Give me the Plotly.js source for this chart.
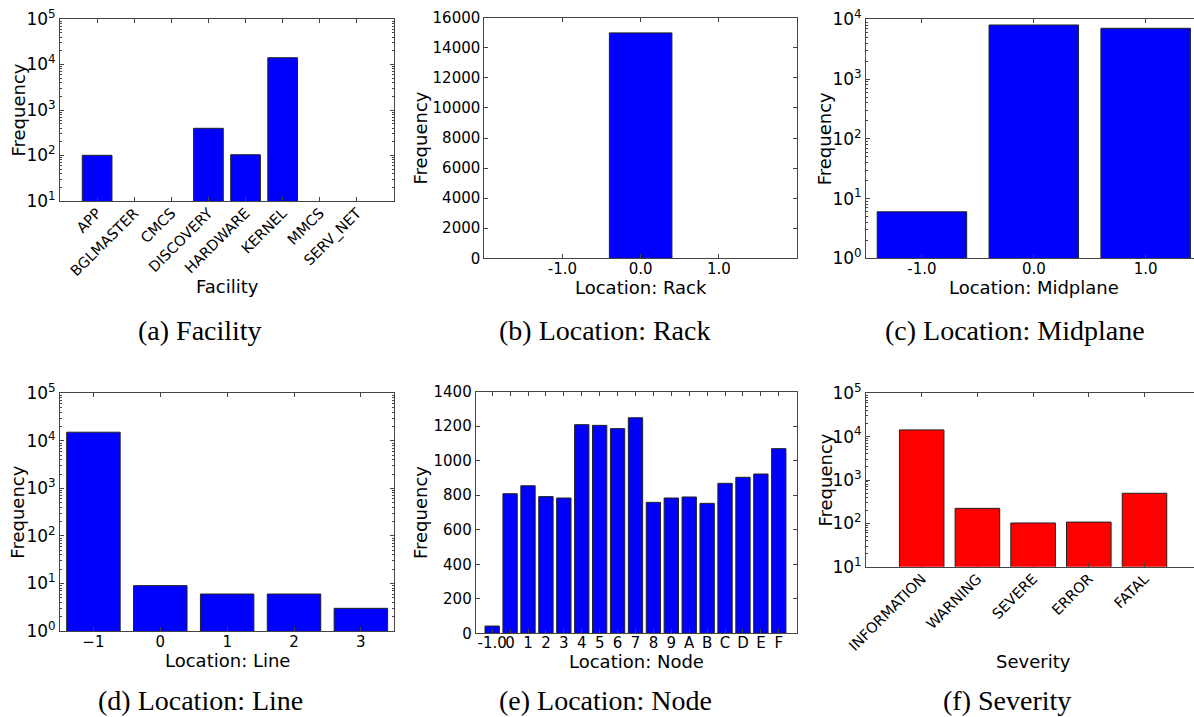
<!DOCTYPE html>
<html>
<head>
<meta charset="utf-8">
<script src="https://cdn.plot.ly/plotly-3.0.1.min.js"></script>
<style>
  html, body { margin: 0; padding: 0; overflow: hidden; background: #fff; }
  #chart { width: 1210px; height: 717px; }
</style>
</head>
<body>
<div id="chart"></div>
<script>
// (a) Facility
const facilityNames = ['APP', 'BGLMASTER', 'CMCS', 'DISCOVERY', 'HARDWARE', 'KERNEL', 'MMCS', 'SERV_NET'];
const facilityCounts = [101, 0, 0, 396, 104, 14100, 0, 0];

// (b) Location: Rack (only rack 0 holds records)
const rackPositions = [-1, 0, 1];
const rackLabels = ['-1.0', '0.0', '1.0'];
const rackCounts = [null, 14990, null];

// (c) Location: Midplane
const midplanePositions = [-1, 0, 1];
const midplaneLabels = ['-1.0', '0.0', '1.0'];
const midplaneCounts = [6, 8030, 7070];

// (d) Location: Line
const linePositions = [-1, 0, 1, 2, 3];
const lineLabels = ['\u22121', '0', '1', '2', '3'];
const lineCounts = [15200, 9, 6, 6, 3];

// (e) Location: Node
const nodeNames = ['-1.0', '0', '1', '2', '3', '4', '5', '6', '7', '8', '9', 'A', 'B', 'C', 'D', 'E', 'F'];
const nodeCounts = [42, 809, 855, 792, 784, 1209, 1205, 1186, 1249, 759, 784, 790, 753, 869, 904, 923, 1070];

// (f) Severity
const severityNames = ['INFORMATION', 'WARNING', 'SEVERE', 'ERROR', 'FATAL'];
const severityCounts = [14300, 222, 102, 107, 494];

// decades shown on the log-scaled frequency axes
const decadesA = [1, 2, 3, 4, 5];
const decadesC = [0, 1, 2, 3, 4];
const decadesD = [0, 1, 2, 3, 4, 5];
const decadesF = [1, 2, 3, 4, 5];

const captions = ['(a) Facility', '(b) Location: Rack', '(c) Location: Midplane',
                  '(d) Location: Line', '(e) Location: Node', '(f) Severity'];
const xTitles = ['Facility', 'Location: Rack', 'Location: Midplane',
                 'Location: Line', 'Location: Node', 'Severity'];

// ---- layout helpers (pixel boxes -> paper fractions) ----
const W = 1210, H = 717;
const px = v => v / W;
const py = v => 1 - v / H;
const xDom = (l, r) => [px(l), px(r)];
const yDom = (t, b) => [py(b), py(t)];

const LINE = '#444';
const SANS = 'DejaVu Sans, sans-serif';
const tickFont = { family: SANS, size: 15, color: '#000' };
const logFont = { family: SANS, size: 17, color: '#000' };
const rotFont = { family: SANS, size: 14.5, color: '#000' };

function baseAxis(extra) {
  return Object.assign({
    showline: true, linecolor: LINE, linewidth: 1, mirror: 'ticks',
    ticks: 'inside', ticklen: 4, tickwidth: 1, tickcolor: LINE,
    showgrid: false, zeroline: false, fixedrange: true,
    tickfont: tickFont
  }, extra);
}

function categoryAxis(names, extra) {
  return baseAxis(Object.assign({
    type: 'category', tickmode: 'array', tickvals: names, ticktext: names
  }, extra));
}

function logAxis(decades, extra) {
  return baseAxis(Object.assign({
    type: 'log',
    range: [decades[0], decades[decades.length - 1]],
    tickmode: 'array',
    tickvals: decades.map(d => Math.pow(10, d)),
    ticktext: decades.map(d => '10<sup>' + d + '</sup>'),
    tickfont: logFont,
    minor: { ticks: 'inside', ticklen: 2, tickwidth: 1, tickcolor: LINE, dtick: 'D1', showgrid: false }
  }, extra));
}

const blueBar = { color: '#0000ff', line: { color: '#222', width: 1 } };
const redBar = { color: '#ff0000', line: { color: '#222', width: 1 } };

const traces = [
  { type: 'bar', x: facilityNames, y: facilityCounts, width: 0.8, marker: blueBar, xaxis: 'x', yaxis: 'y' },
  { type: 'bar', x: rackPositions, y: rackCounts, width: 0.8, marker: blueBar, xaxis: 'x2', yaxis: 'y2' },
  { type: 'bar', x: midplanePositions, y: midplaneCounts, width: 0.8, marker: blueBar, xaxis: 'x3', yaxis: 'y3' },
  { type: 'bar', x: linePositions, y: lineCounts, width: 0.8, marker: blueBar, xaxis: 'x4', yaxis: 'y4' },
  { type: 'bar', x: nodeNames, y: nodeCounts, width: 0.8, marker: blueBar, xaxis: 'x5', yaxis: 'y5' },
  { type: 'bar', x: severityNames, y: severityCounts, width: 0.8, marker: redBar, xaxis: 'x6', yaxis: 'y6' }
].map(t => Object.assign(t, { hoverinfo: 'x+y', showlegend: false }));

// plot boxes in pixels: [left, right, top, bottom]
const boxes = [
  [60, 394, 19, 201],
  [484.3, 797, 17.7, 258.3],
  [866, 1201.6, 19.3, 258.3],
  [60, 394.3, 393.3, 631],
  [475.7, 796.7, 391.7, 633.3],
  [866, 1200.2, 393.3, 566.7]
];

const layout = {
  width: W, height: H,
  margin: { l: 0, r: 0, t: 0, b: 0 },
  paper_bgcolor: '#fff', plot_bgcolor: '#fff',
  showlegend: false,

  xaxis: categoryAxis(facilityNames, { domain: xDom(boxes[0][0], boxes[0][1]), anchor: 'y',
    range: [-1, 8], tickangle: -45, tickfont: rotFont, ticklabelstandoff: -3 }),
  yaxis: logAxis(decadesA, { domain: yDom(boxes[0][2], boxes[0][3]), anchor: 'x' }),

  xaxis2: baseAxis({ domain: xDom(boxes[1][0], boxes[1][1]), anchor: 'y2', range: [-2, 2],
    tickmode: 'array', tickvals: rackPositions, ticktext: rackLabels, ticklabelstandoff: -3 }),
  yaxis2: baseAxis({ domain: yDom(boxes[1][2], boxes[1][3]), anchor: 'x2', range: [0, 16000],
    dtick: 2000, tickformat: 'd' }),

  xaxis3: baseAxis({ domain: xDom(boxes[2][0], boxes[2][1]), anchor: 'y3', range: [-1.5, 1.5],
    tickmode: 'array', tickvals: midplanePositions, ticktext: midplaneLabels, ticklabelstandoff: -3 }),
  yaxis3: logAxis(decadesC, { domain: yDom(boxes[2][2], boxes[2][3]), anchor: 'x3' }),

  xaxis4: baseAxis({ domain: xDom(boxes[3][0], boxes[3][1]), anchor: 'y4', range: [-1.5, 3.5],
    tickmode: 'array', tickvals: linePositions, ticktext: lineLabels, ticklabelstandoff: -3 }),
  yaxis4: logAxis(decadesD, { domain: yDom(boxes[3][2], boxes[3][3]), anchor: 'x4' }),

  xaxis5: categoryAxis(nodeNames, { domain: xDom(boxes[4][0], boxes[4][1]), anchor: 'y5',
    range: [-0.92, 17], tickangle: 0, ticklabelstandoff: -4 }),
  yaxis5: baseAxis({ domain: yDom(boxes[4][2], boxes[4][3]), anchor: 'x5', range: [0, 1400],
    dtick: 200, tickformat: 'd' }),

  xaxis6: categoryAxis(severityNames, { domain: xDom(boxes[5][0], boxes[5][1]), anchor: 'y6',
    range: [-1, 5], tickangle: -45, tickfont: rotFont, ticklabelstandoff: -3 }),
  yaxis6: logAxis(decadesF, { domain: yDom(boxes[5][2], boxes[5][3]), anchor: 'x6' }),

  annotations: []
};

// axis titles and captions
const xTitleY = [286, 287, 288, 660, 661, 661];
const yTitleX = [17.5, 420.5, 824.5, 17.5, 420.5, 824.5];
const captionPos = [[200, 330], [604, 330], [1015, 330], [200, 700], [605, 700], [1007, 700]];

boxes.forEach((b, i) => {
  layout.annotations.push({
    xref: 'paper', yref: 'paper', x: px((b[0] + b[1]) / 2), y: py(xTitleY[i]),
    xanchor: 'center', yanchor: 'middle', showarrow: false, text: xTitles[i],
    font: { family: SANS, size: 18, color: '#000' }
  });
  layout.annotations.push({
    xref: 'paper', yref: 'paper', x: px(yTitleX[i]), y: py((b[2] + b[3]) / 2),
    xanchor: 'center', yanchor: 'middle', showarrow: false, text: 'Frequency', textangle: -90,
    font: { family: SANS, size: 18, color: '#000' }
  });
  layout.annotations.push({
    xref: 'paper', yref: 'paper', x: px(captionPos[i][0]), y: py(captionPos[i][1]),
    xanchor: 'center', yanchor: 'middle', showarrow: false, text: captions[i],
    font: { family: 'Liberation Serif, serif', size: 28, color: '#000' }
  });
});

Plotly.newPlot('chart', traces, layout, { staticPlot: true, displayModeBar: false });
</script>
</body>
</html>
